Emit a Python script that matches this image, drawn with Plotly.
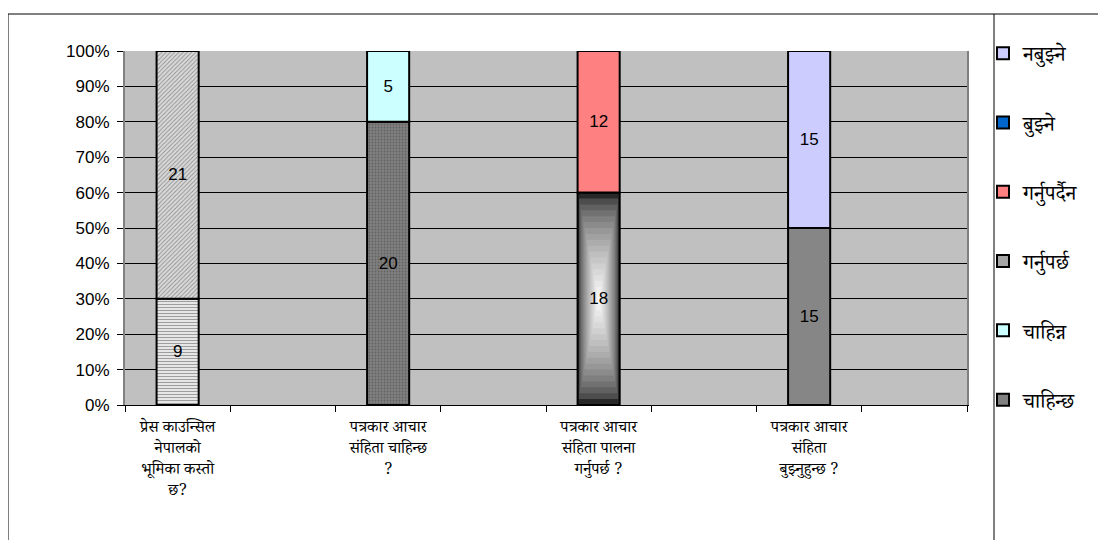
import numpy as np
import plotly.graph_objects as go

# ---------------- data ----------------
slot_labels = [
    "प्रेस काउन्सिल<br>नेपालको<br>भूमिका कस्तो<br>छ?", " ",
    "पत्रकार आचार<br>संहिता चाहिन्छ<br>?", "  ",
    "पत्रकार आचार<br>संहिता पालना<br>गर्नुपर्छ ?", "   ",
    "पत्रकार आचार<br>संहिता<br>बुझ्नुहुन्छ ?", "    ",
]
series_names = ["भूमिका १", "भूमिका २", "चाहिन्छ", "चाहिन्न",
                "गर्नुपर्छ", "गर्नुपर्दैन", "बुझ्ने", "नबुझ्ने"]
N = None
role_low = [9, N, N, N, N, N, N, N]
role_high = [21, N, N, N, N, N, N, N]
chahinchha = [N, N, 20, N, N, N, N, N]
chahinna = [N, N, 5, N, N, N, N, N]
garnuparchha = [N, N, N, N, 18, N, N, N]
garnupardaina = [N, N, N, N, 12, N, N, N]
bujhne = [N, N, N, N, N, N, 15, N]
nabujhne = [N, N, N, N, N, N, 15, N]
series_values = [role_low, role_high, chahinchha, chahinna,
                 garnuparchha, garnupardaina, bujhne, nabujhne]
series_colors = ["#e6e6e6", "#dadada", "#808080", "#CCFFFF",
                 "#a6a6a6", "#FF8080", "#0066CC", "#CCCCFF"]
show_in_legend = [False, False, True, True, True, True, True, True]

# ---------------- percent stacking ----------------
counts = np.array([[np.nan if v is None else v for v in s] for s in series_values], dtype=float)
totals = np.nansum(counts, axis=0)
totals[totals == 0] = 1
pct_full = np.nan_to_num(counts) / totals
bases = np.vstack([np.zeros(len(slot_labels)), np.cumsum(pct_full, axis=0)[:-1]])

BAR_W = 0.4
DEV_FONT = "Noto Serif Devanagari, Noto Sans Devanagari, Lohit Devanagari, FreeSerif, serif"
NUM_FONT = "Arial, Liberation Sans, sans-serif"

fig = go.Figure()

# gradient fill (dark edges -> white centre) for the "गर्नुपर्छ" segment
gi = series_names.index("गर्नुपर्छ")
gj = int(np.nanargmax(counts[gi]))
steps = 18
g_b0, g_h = bases[gi, gj], pct_full[gi, gj]
g_x, g_base, g_y, g_w, g_col = [], [], [], [], []
for k in range(steps):
    t = k / steps
    g_x.append(slot_labels[gj])
    g_base.append(g_b0 + g_h * t / 2)
    g_y.append(g_h * (1 - t))
    g_w.append(BAR_W * (1 - t))
    lv = int(40 + 215 * (t ** 0.6))
    g_col.append(f"rgb({lv},{lv},{lv})")
fig.add_trace(go.Bar(x=g_x, y=g_y, base=g_base, width=g_w,
                     marker=dict(color=g_col, line=dict(width=0)),
                     showlegend=False, hoverinfo="skip"))

# main series
for i, name in enumerate(series_names):
    vals = series_values[i]
    yv = [None if v is None else float(pct_full[i, j]) for j, v in enumerate(vals)]
    bv = [None if v is None else float(bases[i, j]) for j, v in enumerate(vals)]
    col = [series_colors[i]] * len(slot_labels)
    shape = [""] * len(slot_labels)
    fg = ["#000000"] * len(slot_labels)
    bg = [series_colors[i]] * len(slot_labels)
    if name == "गर्नुपर्छ":
        col[gj] = "rgba(0,0,0,0)"
        bg[gj] = "rgba(0,0,0,0)"
    if name == "बुझ्ने":
        col[6] = "#868686"; bg[6] = "#868686"
    if name == "भूमिका १":
        shape[0] = "-"; fg[0] = "#d6d6d6"; bg[0] = "#e8e8e8"
    if name == "भूमिका २":
        shape[0] = "/"; fg[0] = "#d0d0d0"; bg[0] = "#dddddd"
    if name == "चाहिन्छ":
        shape[2] = "."; fg[2] = "#727272"; bg[2] = "#848484"
    fig.add_trace(go.Bar(
        name=name, x=slot_labels, y=yv, base=bv, width=BAR_W,
        text=[("" if v is None else str(v)) for v in vals],
        textposition="inside", insidetextanchor="middle", textangle=0,
        insidetextfont=dict(family=NUM_FONT, size=17, color="#000000"),
        marker=dict(color=col, line=dict(color="#000000", width=2),
                    pattern=dict(shape=shape, fgcolor=fg, bgcolor=bg,
                                 size=3, solidity=0.3)),
        showlegend=show_in_legend[i], legendgroup=name, legendrank=100 - 10 * i,
        hoverinfo="skip"))

# page offset of the plotly div (browser default body margin) is 8px;
# conversions below take page pixel positions
px2x = lambda p: (p - 125) / 842
px2y = lambda p: (405 - p) / 354
fig.add_shape(type="rect", xref="paper", yref="paper",
              x0=px2x(8), x1=px2x(1130), y0=px2y(570), y1=px2y(14),
              line=dict(color="#000000", width=1), layer="below")
fig.add_shape(type="line", xref="paper", yref="paper",
              x0=px2x(994), x1=px2x(994), y0=px2y(570), y1=px2y(14),
              line=dict(color="#000000", width=1), layer="below")

fig.update_layout(
    width=1098, height=532,
    margin=dict(l=117, r=139, t=43, b=135),
    paper_bgcolor="#ffffff", plot_bgcolor="#C0C0C0",
    barmode="overlay",
    showlegend=True,
    legend=dict(x=px2x(983), y=px2y(33), xanchor="left", yanchor="top",
                traceorder="grouped", tracegroupgap=39, maxheight=1.0,
                font=dict(family=DEV_FONT, size=21, color="#000000"),
                bgcolor="rgba(0,0,0,0)", itemwidth=30),
    xaxis=dict(type="category", categoryorder="array", categoryarray=slot_labels,
               tickson="boundaries", ticks="outside", ticklen=6, tickcolor="#000000",
               showline=True, linecolor="#000000", linewidth=1,
               showgrid=False, range=[-0.5, 7.5], ticklabelstandoff=7,
               tickfont=dict(family=DEV_FONT, size=16, color="#000000")),
    yaxis=dict(range=[0, 1], dtick=0.1, tickformat=".0%",
               ticks="outside", ticklen=6, tickcolor="#000000",
               showline=True, linecolor="#808080", linewidth=2, mirror=True,
               showgrid=True, gridcolor="#000000", gridwidth=1, zeroline=False,
               ticklabelstandoff=4,
               tickfont=dict(family=NUM_FONT, size=17, color="#000000")),
)

fig.write_html("out.html")
